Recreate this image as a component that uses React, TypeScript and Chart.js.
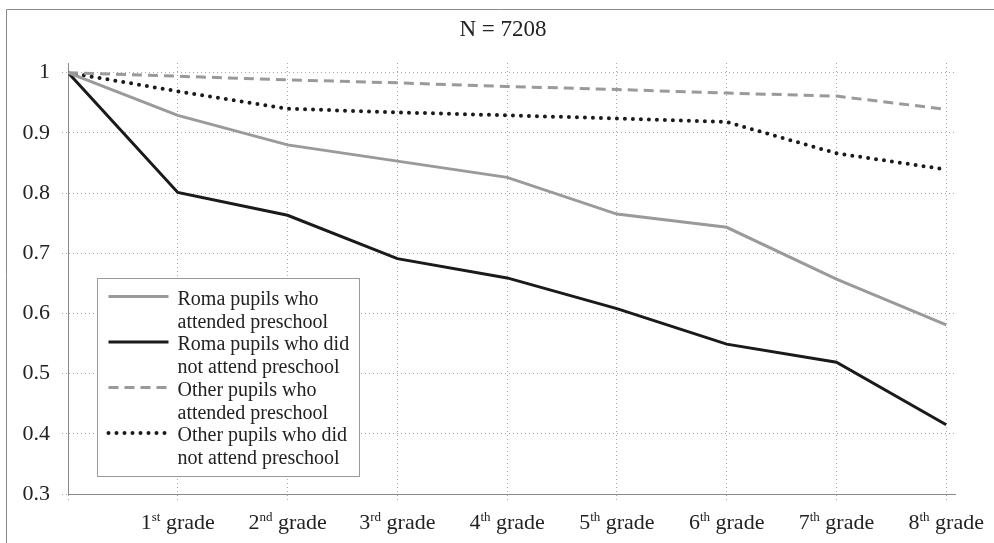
import { useEffect, useRef } from "react";
import { Chart, registerables } from "chart.js";

Chart.register(...registerables);

const titleText = "N = 7208";
const gradeNumbers = ["1", "2", "3", "4", "5", "6", "7", "8"];
const gradeSuffixes = ["st", "nd", "rd", "th", "th", "th", "th", "th"];
const gradeWord = "grade";
const xPositions = [0, 1, 2, 3, 4, 5, 6, 7, 8];
const yTickValues = [0.3, 0.4, 0.5, 0.6, 0.7, 0.8, 0.9, 1];

const seriesNames = [
  ["Roma pupils who", "attended preschool"],
  ["Roma pupils who did", "not attend preschool"],
  ["Other pupils who", "attended preschool"],
  ["Other pupils who did", "not attend preschool"],
];
const romaAttended = [1, 0.929, 0.88, 0.853, 0.826, 0.765, 0.743, 0.657, 0.581];
const romaNotAttended = [1, 0.801, 0.763, 0.691, 0.659, 0.608, 0.549, 0.519, 0.415];
const otherAttended = [1, 0.994, 0.988, 0.983, 0.977, 0.972, 0.966, 0.961, 0.939];
const otherNotAttended = [1, 0.969, 0.94, 0.934, 0.929, 0.924, 0.918, 0.866, 0.839];

const FONT = "'Liberation Serif', 'Times New Roman', serif";
const GRAY = "#9a9a9a";
const BLACK = "#1a1a1a";
const TEXT = "#222222";
const GRID = "#a8a8a8";

const toPoints = (vals: number[]) => vals.map((v, i) => ({ x: xPositions[i], y: v }));

const decorPlugin = {
  id: "decor",
  afterDraw(chart: any) {
    const { ctx, chartArea } = chart;
    const xs = chart.scales.x;
    ctx.save();
    // outer frame
    ctx.strokeStyle = "#8a8a8a";
    ctx.lineWidth = 1;
    ctx.beginPath();
    ctx.moveTo(6.5, 543);
    ctx.lineTo(6.5, 9.5);
    ctx.lineTo(994, 9.5);
    ctx.stroke();

    // title
    ctx.fillStyle = TEXT;
    ctx.font = `23px ${FONT}`;
    ctx.textAlign = "center";
    ctx.textBaseline = "middle";
    ctx.fillText(titleText, 503, 30);

    // x labels with superscripts
    ctx.textBaseline = "alphabetic";
    ctx.textAlign = "left";
    const baseY = chartArea.bottom + 35;
    gradeNumbers.forEach((n, i) => {
      const px = xs.getPixelForValue(i + 1);
      ctx.font = `22px ${FONT}`;
      const wn = ctx.measureText(n).width;
      const wg = ctx.measureText(" " + gradeWord).width;
      ctx.font = `13px ${FONT}`;
      const ws = ctx.measureText(gradeSuffixes[i]).width;
      let x = px - (wn + ws + wg) / 2;
      ctx.font = `22px ${FONT}`;
      ctx.fillText(n, x, baseY);
      x += wn;
      ctx.font = `13px ${FONT}`;
      ctx.fillText(gradeSuffixes[i], x, baseY - 8);
      x += ws;
      ctx.font = `22px ${FONT}`;
      ctx.fillText(" " + gradeWord, x, baseY);
    });

    // legend box
    const bx = chartArea.left + 29.5;
    const by = chartArea.top + 215.5;
    const bw = 262;
    const bh = 198;
    ctx.fillStyle = "#ffffff";
    ctx.fillRect(bx, by, bw, bh);
    ctx.strokeStyle = "#9a9a9a";
    ctx.lineWidth = 1;
    ctx.strokeRect(bx, by, bw, bh);
    chart.data.datasets.forEach((ds: any, i: number) => {
      const rowY = by + 18 + i * 45.5;
      ctx.save();
      ctx.strokeStyle = ds.borderColor;
      ctx.lineWidth = ds.borderWidth;
      ctx.lineCap = ds.borderCapStyle || "butt";
      ctx.setLineDash(ds.borderDash || []);
      ctx.beginPath();
      ctx.moveTo(bx + 11, rowY);
      ctx.lineTo(bx + 71, rowY);
      ctx.stroke();
      ctx.restore();
      ctx.fillStyle = TEXT;
      ctx.font = `20px ${FONT}`;
      ctx.textBaseline = "middle";
      ctx.textAlign = "left";
      seriesNames[i].forEach((line, j) => {
        ctx.fillText(line, bx + 80, rowY + 3 + j * 23);
      });
    });
    ctx.restore();
  },
};

export default function App() {
  const ref = useRef<HTMLCanvasElement>(null);
  useEffect(() => {
    document.body.style.margin = "0";
    const chart = new Chart(ref.current as HTMLCanvasElement, {
      type: "line",
      data: {
        datasets: [
          {
            label: seriesNames[0].join(" "),
            data: toPoints(romaAttended),
            borderColor: GRAY,
            borderWidth: 3,
            pointRadius: 0,
            tension: 0,
          },
          {
            label: seriesNames[1].join(" "),
            data: toPoints(romaNotAttended),
            borderColor: BLACK,
            borderWidth: 3,
            pointRadius: 0,
            tension: 0,
          },
          {
            label: seriesNames[2].join(" "),
            data: toPoints(otherAttended),
            borderColor: GRAY,
            borderWidth: 3,
            borderDash: [10, 6],
            pointRadius: 0,
            tension: 0,
          },
          {
            label: seriesNames[3].join(" "),
            data: toPoints(otherNotAttended),
            borderColor: BLACK,
            borderWidth: 4,
            borderDash: [0, 8],
            borderCapStyle: "round",
            pointRadius: 0,
            tension: 0,
          },
        ] as any,
      },
      plugins: [decorPlugin],
      options: {
        responsive: false,
        animation: false,
        devicePixelRatio: 1,
        layout: { padding: { left: 0, right: 39, top: 63, bottom: 0 } },
        plugins: {
          legend: { display: false },
          tooltip: { enabled: false },
          title: { display: false },
        },
        scales: {
          x: {
            type: "linear",
            min: 0,
            max: 8.08,
            afterBuildTicks: (s: any) => {
              s.ticks = xPositions.map((v) => ({ value: v }));
            },
            afterFit: (s: any) => {
              s.height = 49;
            },
            ticks: { display: false },
            grid: {
              color: GRID,
              drawTicks: true,
              tickLength: 8,
              tickColor: GRID,
              tickBorderDash: [1, 3],
            },
            border: { display: true, color: "#8a8a8a", width: 1, dash: [1, 3] },
          },
          y: {
            type: "linear",
            min: 0.3,
            max: 1.016,
            afterBuildTicks: (s: any) => {
              s.ticks = yTickValues.map((v) => ({ value: v }));
            },
            afterFit: (s: any) => {
              s.width = 68;
            },
            ticks: {
              color: TEXT,
              font: { family: FONT, size: 22 },
              padding: 12,
              callback: (v: any) => String(Math.round(v * 10) / 10),
            },
            grid: {
              color: GRID,
              drawTicks: true,
              tickLength: 6,
              tickColor: GRID,
              tickBorderDash: [1, 3],
            },
            border: { display: true, color: "#8a8a8a", width: 1, dash: [1, 3] },
          },
        },
      } as any,
    });
    return () => chart.destroy();
  }, []);
  return (
    <div style={{ width: 994, height: 543, overflow: "hidden", background: "#fff" }}>
      <canvas ref={ref} width={994} height={543} style={{ display: "block", width: 994, height: 543 }} />
    </div>
  );
}
